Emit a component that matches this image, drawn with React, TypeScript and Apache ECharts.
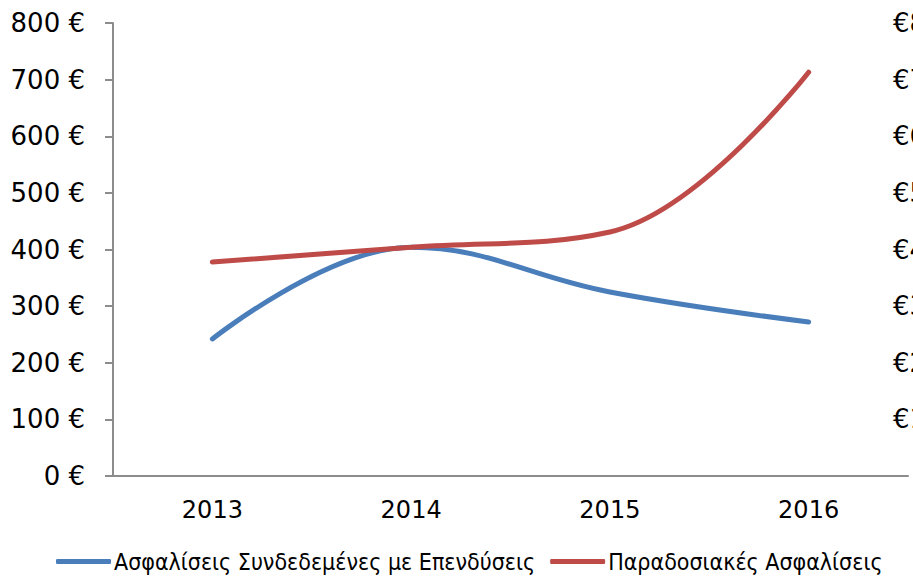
import React, { useEffect, useRef } from "react";
import * as echarts from "echarts";

const categories = ["2013", "2014", "2015", "2016"];
const unitLinked = [242, 404, 325, 272];
const traditional = [378, 404, 431, 713];
const seriesNames = ["Ασφαλίσεις Συνδεδεμένες με Επενδύσεις", "Παραδοσιακές Ασφαλίσεις"];

export default function App() {
  const ref = useRef<HTMLDivElement>(null);
  useEffect(() => {
    const chart = echarts.init(ref.current!, null, { renderer: "svg" });
    const axisFont = { fontFamily: "DejaVu Sans", fontSize: 26, color: "#000" };
    chart.setOption({
      animation: false,
      grid: { left: 113, right: 5, top: 23, bottom: 100, containLabel: false, outerBoundsMode: "none" },
      legend: {
        top: 545,
        left: 51,
        itemWidth: 55,
        itemHeight: 5,
        itemGap: 15,
        icon: "roundRect",
        textStyle: { fontFamily: "DejaVu Sans Condensed", fontSize: 23, color: "#000", padding: [0, 0, 0, -2] },
        data: seriesNames,
      },
      xAxis: {
        type: "category",
        data: categories,
        boundaryGap: true,
        axisLine: { lineStyle: { color: "#8c8c8c", width: 2 } },
        axisTick: { length: 8, lineStyle: { color: "#8c8c8c", width: 2 } },
        axisLabel: { fontFamily: "DejaVu Sans", fontSize: 24, color: "#000", margin: 22 },
      },
      yAxis: [
        {
          type: "value",
          min: 0,
          max: 800,
          interval: 100,
          axisLine: { show: true, lineStyle: { color: "#8c8c8c", width: 2 } },
          axisTick: { show: true, length: 8, lineStyle: { color: "#8c8c8c", width: 2 } },
          splitLine: { show: false },
          axisLabel: { ...axisFont, margin: 28, formatter: (v: number) => `${v} €` },
        },
        {
          type: "value",
          position: "right",
          min: 0,
          max: 800,
          interval: 100,
          axisLine: { show: false },
          axisTick: { show: false },
          splitLine: { show: false },
          axisLabel: {
            ...axisFont,
            margin: -15,
            formatter: (v: number) => (v === 0 ? "" : `€${v}`),
          },
        },
      ],
      series: [
        {
          name: seriesNames[0],
          type: "line",
          data: unitLinked,
          smooth: 0.4,
          symbol: "none",
          lineStyle: { color: "#4a7ebb", width: 5, cap: "round" },
          itemStyle: { color: "#4a7ebb" },
        },
        {
          name: seriesNames[1],
          type: "line",
          data: traditional,
          smooth: 0.4,
          symbol: "none",
          lineStyle: { color: "#be4b48", width: 5, cap: "round" },
          itemStyle: { color: "#be4b48" },
        },
      ],
    });
    return () => chart.dispose();
  }, []);
  return <div ref={ref} style={{ width: 913, height: 576, position: "absolute", left: 0, top: 0 }} />;
}
